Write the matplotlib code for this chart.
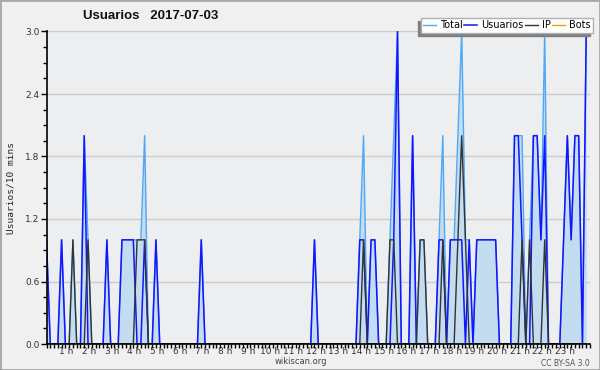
import numpy as np
import matplotlib
matplotlib.use('Agg')
import matplotlib.pyplot as plt
import matplotlib.transforms as mtransforms
from matplotlib.patches import Rectangle
from matplotlib.ticker import MultipleLocator, FixedLocator, FixedFormatter

# Usuarios por intervalo de 10 minutos (144 valores, 12 por fila = 2 horas)
usuarios = [
    1, 0, 0, 0, 1, 0, 0, 0, 0, 0, 2, 0,
    0, 0, 0, 0, 1, 0, 0, 0, 1, 1, 1, 1,
    0, 0, 1, 0, 0, 1, 0, 0, 0, 0, 0, 0,
    0, 0, 0, 0, 0, 1, 0, 0, 0, 0, 0, 0,
    0, 0, 0, 0, 0, 0, 0, 0, 0, 0, 0, 0,
    0, 0, 0, 0, 0, 0, 0, 0, 0, 0, 0, 1,
    0, 0, 0, 0, 0, 0, 0, 0, 0, 0, 0, 1,
    1, 0, 1, 1, 0, 0, 0, 0, 1, 3, 0, 0,
    0, 2, 0, 0, 0, 0, 0, 0, 1, 1, 0, 1,
    1, 1, 1, 0, 1, 0, 1, 1, 1, 1, 1, 1,
    0, 0, 0, 0, 2, 2, 1, 0, 0, 2, 2, 1,
    2, 0, 0, 0, 0, 1, 2, 1, 2, 2, 0, 3,
]
ip = [
    0, 0, 0, 0, 0, 0, 0, 1, 0, 0, 0, 1,
    0, 0, 0, 0, 0, 0, 0, 0, 0, 0, 0, 0,
    1, 1, 1, 0, 0, 0, 0, 0, 0, 0, 0, 0,
    0, 0, 0, 0, 0, 0, 0, 0, 0, 0, 0, 0,
    0, 0, 0, 0, 0, 0, 0, 0, 0, 0, 0, 0,
    0, 0, 0, 0, 0, 0, 0, 0, 0, 0, 0, 0,
    0, 0, 0, 0, 0, 0, 0, 0, 0, 0, 0, 0,
    1, 0, 0, 0, 0, 0, 0, 1, 1, 0, 0, 0,
    0, 0, 0, 1, 1, 0, 0, 0, 0, 1, 0, 0,
    0, 1, 2, 1, 0, 0, 0, 0, 0, 0, 0, 0,
    0, 0, 0, 0, 0, 0, 1, 0, 1, 0, 0, 0,
    1, 0, 0, 0, 0, 0, 0, 0, 0, 0, 0, 0,
]
bots = [0] * 144
hour_labels = ['%d h' % h for h in range(1, 24)]
y_ticks = [0.0, 0.6, 1.2, 1.8, 2.4, 3.0]

u = np.array(usuarios)
i = np.array(ip)
b = np.array(bots)
total = u + i + b
x = np.arange(len(u))

fig = plt.figure(figsize=(6, 3.7), dpi=100, facecolor='#f0f0f0')
ax = fig.add_axes([46.5 / 600, 26 / 370, 543.5 / 600, 312.5 / 370])
ax.set_facecolor('#eceef0')

# frame round the whole picture
fig.patches.append(Rectangle((0, 0), 1, 1, transform=fig.transFigure,
                             fill=False, edgecolor='#a8a8a8', linewidth=2))

ax.fill_between(x, 0, total, color='#c4dcf0', linewidth=0, zorder=1)
ax.plot(x, b, color='#ff9900', lw=1, label='Bots', zorder=1.5)
ax.plot(x, total, color='#4ea8f5', lw=1, label='Total', zorder=2)
ax.plot(x, u, color='#1414ff', lw=1.1, label='Usuarios', zorder=3)
ax.plot(x, i, color='#333333', lw=1, label='IP', zorder=4)

ax.set_xlim(0, 144)
ax.set_ylim(0, 3.0)
ax.yaxis.set_major_locator(FixedLocator(y_ticks))
ax.yaxis.set_major_formatter(FixedFormatter(['%.1f' % v for v in y_ticks]))
ax.yaxis.set_minor_locator(MultipleLocator(0.15))
ax.xaxis.set_major_locator(FixedLocator([6 * h for h in range(1, 24)]))
ax.xaxis.set_major_formatter(FixedFormatter(hour_labels))
ax.xaxis.set_minor_locator(MultipleLocator(1))

ax.grid(axis='y', color='#cccccc', lw=1)
ax.set_axisbelow(True)
for s in ['top', 'right']:
    ax.spines[s].set_visible(False)
for s in ['left', 'bottom']:
    ax.spines[s].set_color('black')
    ax.spines[s].set_linewidth(1.2)
    ax.spines[s].set_zorder(5)

ax.tick_params(axis='y', which='major', length=4, width=1, labelsize=6.5,
               labelcolor='#333333', pad=1)
ax.tick_params(axis='y', which='minor', length=3, width=1)
ax.tick_params(axis='x', which='both', length=3, width=1, labelsize=6.5,
               labelcolor='#333333', pad=-0.5)
# hour labels sit a little left of their tick
shift = mtransforms.ScaledTranslation(-2.5 / 100, 0, fig.dpi_scale_trans)
for lab in ax.get_xticklabels():
    lab.set_transform(lab.get_transform() + shift)

ax.set_ylabel('Usuarios/10 mins', family='DejaVu Sans Mono', fontsize=6.8,
              color='#222222', labelpad=7)

fig.text(151 / 600, 1 - 16 / 370, 'Usuarios   2017-07-03', ha='center', va='center',
         fontsize=9.5, fontweight='bold', family='Liberation Sans', color='#111111')
fig.text(301 / 600, 1 - 361 / 370, 'wikiscan.org', ha='center', va='center',
         fontsize=6, color='#444444')
fig.text(590 / 600, 1 - 363 / 370, 'CC BY-SA 3.0', ha='right', va='center',
         fontsize=5.5, color='#555555')

handles, labels = ax.get_legend_handles_labels()
order = [labels.index(n) for n in ['Total', 'Usuarios', 'IP', 'Bots']]
leg = ax.legend([handles[k] for k in order], [labels[k] for k in order],
                ncol=4, loc='lower right', bbox_to_anchor=(593 / 600, 1 - 32.5 / 370),
                bbox_transform=fig.transFigure, fontsize=7, frameon=True,
                fancybox=False, handlelength=1.3, handletextpad=0.4,
                columnspacing=0.2, borderpad=0.25, borderaxespad=0,
                shadow={'ox': -2.2, 'oy': -2.2, 'color': '#808080', 'alpha': 1})
leg.get_frame().set_edgecolor('#b0b0b0')
leg.get_frame().set_facecolor('white')
leg.get_frame().set_linewidth(1)

fig.savefig('out.png', dpi=100, facecolor=fig.get_facecolor())
